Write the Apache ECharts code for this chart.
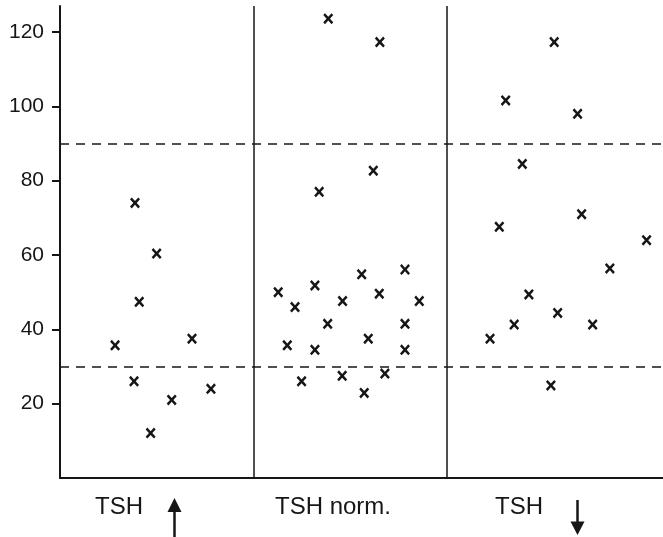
<!DOCTYPE html>
<html>
<head>
<meta charset="utf-8">
<script src="https://cdn.jsdelivr.net/npm/echarts@6/dist/echarts.min.js"></script>
<style>
  html, body { margin: 0; padding: 0; background: #fff; }
  #chart { width: 663px; height: 537px; }
</style>
</head>
<body>
<div id="chart"></div>
<script>
// Group labels along the bottom
const groups = ['TSH', 'TSH norm.', 'TSH'];

// Horizontal spread of each point inside its panel (panel index + offset)
const xHigh = [0.388, 0.285, 0.410, 0.500, 0.383, 0.469, 0.578, 0.683, 0.781];
const yHigh = [74.0, 35.7, 47.4, 60.4, 26.0, 12.1, 21.0, 37.5, 24.0];

const xNorm = [1.388, 1.655, 1.621, 1.341, 1.129, 1.216, 1.319, 1.462, 1.561, 1.652, 1.785,
               1.859, 1.385, 1.785, 1.595, 1.176, 1.319, 1.785, 1.250, 1.460, 1.681, 1.574];
const yNorm = [123.6, 117.3, 82.7, 77.0, 50.0, 46.0, 51.8, 47.6, 54.8, 49.6, 56.1,
               47.6, 41.5, 41.5, 37.5, 35.7, 34.5, 34.5, 26.0, 27.5, 28.1, 22.9];

const xLow = [2.557, 2.306, 2.678, 2.392, 2.699, 2.273, 3.035, 2.845, 2.426, 2.575, 2.350,
              2.756, 2.225, 2.540];
const yLow = [117.3, 101.6, 98.0, 84.5, 71.0, 67.6, 64.0, 56.4, 49.4, 44.4, 41.3,
              41.3, 37.5, 24.9];

// Reference range limits (dashed) and panel boundaries
const refLines = [30, 90];
const panelBounds = [1, 2];
const yTicks = [20, 40, 60, 80, 100, 120];

const ink = '#161616';
const crossPath = 'path://M0,1.7L1.7,0L5,3.3L8.3,0L10,1.7L6.7,5L10,8.3L8.3,10L5,6.7L1.7,10L0,8.3L3.3,5Z';

function zip(xs, ys) { return xs.map((x, i) => [x, ys[i]]); }

function scatter(name, xs, ys) {
  return {
    name: name,
    type: 'scatter',
    data: zip(xs, ys),
    symbol: crossPath,
    symbolSize: [10, 11],
    itemStyle: { color: ink, opacity: 1 },
    silent: true
  };
}

const chart = echarts.init(document.getElementById('chart'), null, { renderer: 'canvas' });

const series = [
  scatter('high', xHigh, yHigh),
  scatter('norm', xNorm, yNorm),
  scatter('low', xLow, yLow)
];

// Panel separators and dashed limits as mark lines on one series
series[0].markLine = {
  silent: true,
  symbol: ['none', 'none'],
  label: { show: false },
  animation: false,
  data: [
    ...panelBounds.map(v => ({ xAxis: v, lineStyle: { type: 'solid', width: 1.5, color: ink } })),
    ...refLines.map(v => ({ yAxis: v, lineStyle: { type: [9, 7], width: 1.6, color: ink } }))
  ]
};

chart.setOption({
  animation: false,
  backgroundColor: '#ffffff',
  grid: { left: 60, right: 0, top: 6, bottom: 59, containLabel: false },
  xAxis: {
    type: 'value',
    min: 0,
    max: 3.12,
    axisLine: { show: true, onZero: false, lineStyle: { color: ink, width: 2 } },
    axisTick: { show: false },
    axisLabel: { show: false },
    splitLine: { show: false }
  },
  yAxis: {
    type: 'value',
    min: 0,
    max: 127,
    axisLine: { show: true, lineStyle: { color: ink, width: 2 } },
    axisTick: {
      show: true, inside: false, length: 8,
      customValues: yTicks,
      lineStyle: { color: ink, width: 2 }
    },
    axisLabel: {
      show: true,
      customValues: yTicks,
      margin: 16,
      color: ink,
      fontSize: 21,
      fontFamily: 'Liberation Sans, Arial, sans-serif'
    },
    splitLine: { show: false }
  },
  series: series,
  graphic: [
    { type: 'text', left: 95, top: 495, style: { text: groups[0], font: '24px "Liberation Sans", Arial, sans-serif', fill: ink } },
    { type: 'text', left: 275, top: 495, style: { text: groups[1], font: '24px "Liberation Sans", Arial, sans-serif', fill: ink } },
    { type: 'text', left: 495, top: 495, style: { text: groups[2], font: '24px "Liberation Sans", Arial, sans-serif', fill: ink } },
    // up arrow next to the first group
    { type: 'line', shape: { x1: 174.5, y1: 509, x2: 174.5, y2: 537 }, style: { stroke: ink, lineWidth: 2.5 } },
    { type: 'polygon', shape: { points: [[174.5, 498], [181.5, 512], [167.5, 512]] }, style: { fill: ink } },
    // down arrow next to the third group
    { type: 'line', shape: { x1: 577.5, y1: 500, x2: 577.5, y2: 524 }, style: { stroke: ink, lineWidth: 2.5 } },
    { type: 'polygon', shape: { points: [[570.5, 521.5], [584.5, 521.5], [577.5, 535]] }, style: { fill: ink } }
  ]
});
</script>
</body>
</html>
